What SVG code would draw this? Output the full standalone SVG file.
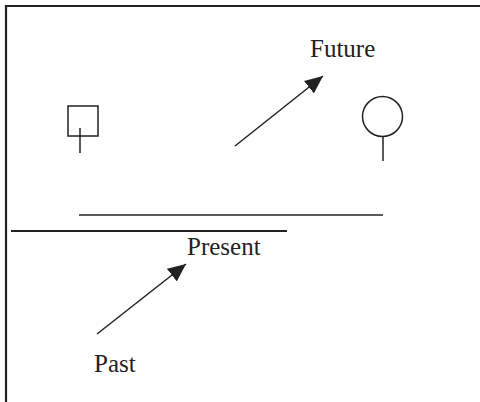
<svg xmlns="http://www.w3.org/2000/svg" width="480" height="402" viewBox="0 0 480 402">
<style>
.s{fill:none;stroke:#222;stroke-width:1.5}
.t{font-family:"Liberation Serif","Times New Roman",serif;font-size:25px;fill:#222}
</style>
<defs>
<marker id="ah" markerUnits="userSpaceOnUse" markerWidth="20" markerHeight="16" refX="18" refY="8" orient="auto">
<path d="M0,0 L18,8 L0,16 Z" fill="#222"/>
</marker>
</defs>
<rect width="480" height="402" fill="#fff"/>
<g id="frame">
<path d="M6,402 V6 H480" fill="none" stroke="#222" stroke-width="2.2"/>
</g>
<g id="square">
<rect x="68" y="106" width="30" height="30" class="s"/>
<line x1="80" y1="128" x2="80" y2="153" class="s"/>
</g>
<g id="circle">
<circle cx="382.5" cy="116.5" r="20" class="s"/>
<line x1="383" y1="136.5" x2="383" y2="161" class="s"/>
</g>
<g id="lines">
<line x1="79" y1="215" x2="383" y2="215" stroke="#222" stroke-width="1.5"/>
<line x1="11" y1="231" x2="287" y2="231" stroke="#222" stroke-width="2.2"/>
</g>
<g id="labels">
<text class="t" x="310" y="57">Future</text>
<text class="t" x="187" y="255">Present</text>
<text class="t" x="94" y="372">Past</text>
</g>
<g id="connectors">
<line x1="235" y1="146" x2="323" y2="76" class="s" marker-end="url(#ah)"/>
<line x1="97" y1="334" x2="186" y2="264" class="s" marker-end="url(#ah)"/>
</g>
</svg>
